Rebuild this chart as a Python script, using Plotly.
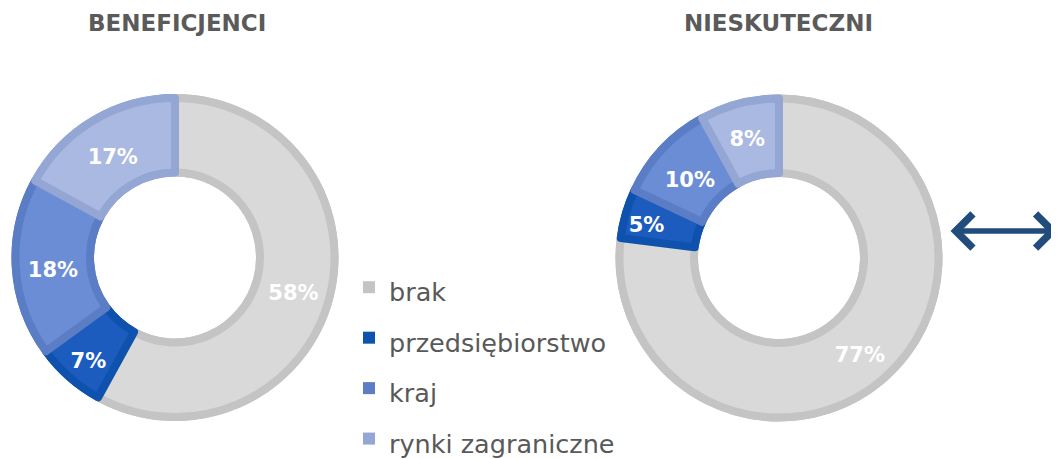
import plotly.graph_objects as go

categories = ["brak", "przedsiębiorstwo", "kraj", "rynki zagraniczne"]
beneficjenci = [58, 7, 18, 17]
nieskuteczni = [77, 5, 10, 8]
titles = ["BENEFICJENCI", "NIESKUTECZNI"]

fill_colors = ["#d9d9d9", "#1c5cbf", "#6a8dd5", "#aab9e2"]
border_colors = ["#c4c4c4", "#0f52ad", "#5b7dc6", "#93a6d4"]

# page has an 8px body margin; the figure fills the rest of the 1059x459 window
OFF = 8
W, H = 1059 - OFF, 459 - OFF
TEXT_FONT = "DejaVu Sans"


def px(x):
    return (x - OFF) / W


def py(y):
    return 1 - (y - OFF) / H


def dom(cx, cy, r):
    return dict(x=[px(cx - r), px(cx + r)], y=[py(cy + r), py(cy - r)])


legend_labels = ["<span style='font-size:25.5px'>%s</span>" % c for c in categories]

R_VIS, HOLE_VIS, BW = 163.5, 81, 8
charts = [(beneficjenci, 175, 257.5), (nieskuteczni, 779, 258)]

fig = go.Figure()
for i, (vals, cx, cy) in enumerate(charts):
    # base ring in the darker edge colours (also feeds the legend swatches)
    fig.add_trace(go.Pie(
        labels=legend_labels, values=vals, sort=False, direction="clockwise", rotation=0,
        hole=HOLE_VIS / R_VIS, domain=dom(cx, cy, R_VIS),
        marker=dict(colors=border_colors, line=dict(width=0)),
        textinfo="none", hoverinfo="skip", showlegend=(i == 0),
    ))
    # lighter fill with inset edges
    rg = R_VIS - BW / 2
    fig.add_trace(go.Pie(
        labels=legend_labels, values=vals, sort=False, direction="clockwise", rotation=0,
        hole=(HOLE_VIS + BW / 2) / rg, domain=dom(cx, cy, rg),
        marker=dict(colors=fill_colors, line=dict(color=border_colors, width=BW)),
        texttemplate="<span style='font-size:21px'>&nbsp;</span><br>"
                     "<span style='font-size:21px'>%{value}%</span>",
        textposition="inside", insidetextorientation="horizontal",
        textfont=dict(family=TEXT_FONT, size=8, color="white", weight="bold"),
        hoverinfo="label+percent", showlegend=False,
    ))

fig.add_annotation(x=px(177), y=py(23), xref="paper", yref="paper", xanchor="center", yanchor="middle",
                   text="<b>%s</b>" % titles[0], showarrow=False,
                   font=dict(family=TEXT_FONT, size=23, color="#5a5a5a"))
fig.add_annotation(x=px(778), y=py(23), xref="paper", yref="paper", xanchor="center", yanchor="middle",
                   text="<b>%s</b>" % titles[1], showarrow=False,
                   font=dict(family=TEXT_FONT, size=23, color="#5a5a5a"))

# double-headed arrow
fig.add_annotation(x=px(1058), y=py(231), xref="paper", yref="paper",
                   ax=-109, ay=0,
                   text="", showarrow=True, arrowhead=4, startarrowhead=4, arrowside="end+start",
                   arrowwidth=5.5, arrowsize=1.2, startarrowsize=1.2, arrowcolor="#214c7c")

fig.update_layout(
    width=W, height=H,
    margin=dict(l=0, r=0, t=0, b=0, autoexpand=False),
    paper_bgcolor="white",
    plot_bgcolor="white",
    showlegend=True,
    uniformtext=dict(minsize=8, mode="show"),
    legend=dict(
        x=px(349), y=py(257), xanchor="left", yanchor="top",
        font=dict(family=TEXT_FONT, size=36.5, color="#595959"),
        bgcolor="rgba(0,0,0,0)",
        traceorder="normal",
    ),
)

fig.write_html("out.html")
